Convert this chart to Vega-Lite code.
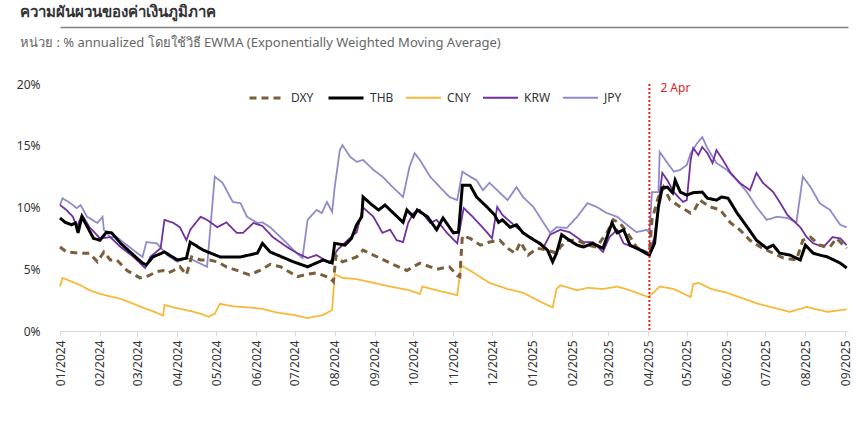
{
  "$schema": "https://vega.github.io/schema/vega-lite/v6.json",
  "width": 788,
  "height": 247,
  "autosize": {"type": "none"},
  "padding": {"left": 60, "top": 84, "right": 12, "bottom": 90},
  "background": "white",
  "config": {"view": {"stroke": null}, "font": "Noto Sans"},
  "title": {
    "text": "ความผันผวนของค่าเงินภูมิภาค",
    "subtitle": "หน่วย : % annualized โดยใช้วิธี EWMA (Exponentially Weighted Moving Average)",
    "anchor": "start",
    "frame": "group",
    "dx": -40,
    "offset": -23,
    "fontSize": 15,
    "fontWeight": "bold",
    "color": "#333333",
    "subtitleFontSize": 13,
    "subtitleColor": "#666666",
    "subtitlePadding": 17
  },
  "resolve": {"axis": {"x": "independent"}},
  "layer": [
    {
      "data": {"values": [
        {"s":"CNY","d":"2024-01-01","v":3.6},{"s":"CNY","d":"2024-01-03","v":4.3},{"s":"CNY","d":"2024-01-10","v":4.0},{"s":"CNY","d":"2024-01-17","v":3.7},{"s":"CNY","d":"2024-01-24","v":3.3},{"s":"CNY","d":"2024-02-01","v":3.0},{"s":"CNY","d":"2024-02-09","v":2.8},{"s":"CNY","d":"2024-02-17","v":2.6},{"s":"CNY","d":"2024-02-27","v":2.2},{"s":"CNY","d":"2024-03-05","v":1.9},{"s":"CNY","d":"2024-03-13","v":1.6},{"s":"CNY","d":"2024-03-21","v":1.25},{"s":"CNY","d":"2024-03-22","v":2.1},{"s":"CNY","d":"2024-04-03","v":1.8},{"s":"CNY","d":"2024-04-12","v":1.6},{"s":"CNY","d":"2024-04-19","v":1.4},{"s":"CNY","d":"2024-04-25","v":1.15},{"s":"CNY","d":"2024-04-30","v":1.4},{"s":"CNY","d":"2024-05-04","v":2.2},{"s":"CNY","d":"2024-05-14","v":2.0},{"s":"CNY","d":"2024-05-27","v":1.9},{"s":"CNY","d":"2024-06-06","v":1.8},{"s":"CNY","d":"2024-06-17","v":1.5},{"s":"CNY","d":"2024-06-30","v":1.3},{"s":"CNY","d":"2024-07-11","v":1.05},{"s":"CNY","d":"2024-07-23","v":1.3},{"s":"CNY","d":"2024-07-30","v":1.7},{"s":"CNY","d":"2024-08-01","v":4.6},{"s":"CNY","d":"2024-08-07","v":4.3},{"s":"CNY","d":"2024-08-18","v":4.2},{"s":"CNY","d":"2024-08-31","v":3.9},{"s":"CNY","d":"2024-09-13","v":3.6},{"s":"CNY","d":"2024-09-28","v":3.3},{"s":"CNY","d":"2024-10-06","v":3.0},{"s":"CNY","d":"2024-10-08","v":3.6},{"s":"CNY","d":"2024-10-19","v":3.3},{"s":"CNY","d":"2024-11-04","v":2.9},{"s":"CNY","d":"2024-11-07","v":5.3},{"s":"CNY","d":"2024-11-14","v":4.9},{"s":"CNY","d":"2024-11-29","v":3.9},{"s":"CNY","d":"2024-12-13","v":3.4},{"s":"CNY","d":"2024-12-25","v":3.1},{"s":"CNY","d":"2025-01-07","v":2.4},{"s":"CNY","d":"2025-01-17","v":1.9},{"s":"CNY","d":"2025-01-20","v":3.4},{"s":"CNY","d":"2025-01-23","v":3.7},{"s":"CNY","d":"2025-02-05","v":3.3},{"s":"CNY","d":"2025-02-13","v":3.5},{"s":"CNY","d":"2025-02-25","v":3.4},{"s":"CNY","d":"2025-03-08","v":3.6},{"s":"CNY","d":"2025-03-18","v":3.3},{"s":"CNY","d":"2025-04-01","v":2.75},{"s":"CNY","d":"2025-04-06","v":3.2},{"s":"CNY","d":"2025-04-10","v":3.6},{"s":"CNY","d":"2025-04-21","v":3.4},{"s":"CNY","d":"2025-05-04","v":2.75},{"s":"CNY","d":"2025-05-06","v":3.8},{"s":"CNY","d":"2025-05-10","v":3.9},{"s":"CNY","d":"2025-05-20","v":3.4},{"s":"CNY","d":"2025-06-01","v":3.1},{"s":"CNY","d":"2025-06-24","v":2.25},{"s":"CNY","d":"2025-07-20","v":1.55},{"s":"CNY","d":"2025-08-02","v":1.95},{"s":"CNY","d":"2025-08-18","v":1.55},{"s":"CNY","d":"2025-09-02","v":1.75},

        {"s":"JPY","d":"2024-01-01","v":10.2},{"s":"JPY","d":"2024-01-03","v":10.75},{"s":"JPY","d":"2024-01-09","v":10.35},{"s":"JPY","d":"2024-01-14","v":9.95},{"s":"JPY","d":"2024-01-17","v":10.2},{"s":"JPY","d":"2024-01-22","v":9.25},{"s":"JPY","d":"2024-01-30","v":8.75},{"s":"JPY","d":"2024-02-03","v":9.25},{"s":"JPY","d":"2024-02-04","v":8.2},{"s":"JPY","d":"2024-02-09","v":7.6},{"s":"JPY","d":"2024-02-14","v":7.6},{"s":"JPY","d":"2024-02-22","v":6.95},{"s":"JPY","d":"2024-03-01","v":6.3},{"s":"JPY","d":"2024-03-05","v":6.0},{"s":"JPY","d":"2024-03-08","v":7.2},{"s":"JPY","d":"2024-03-16","v":7.1},{"s":"JPY","d":"2024-03-24","v":6.15},{"s":"JPY","d":"2024-04-01","v":5.6},{"s":"JPY","d":"2024-04-08","v":5.9},{"s":"JPY","d":"2024-04-13","v":5.75},{"s":"JPY","d":"2024-04-24","v":5.2},{"s":"JPY","d":"2024-04-26","v":7.6},{"s":"JPY","d":"2024-04-30","v":12.5},{"s":"JPY","d":"2024-05-06","v":12.0},{"s":"JPY","d":"2024-05-14","v":10.45},{"s":"JPY","d":"2024-05-20","v":10.35},{"s":"JPY","d":"2024-05-25","v":9.25},{"s":"JPY","d":"2024-06-02","v":8.75},{"s":"JPY","d":"2024-06-06","v":8.8},{"s":"JPY","d":"2024-06-12","v":8.4},{"s":"JPY","d":"2024-06-20","v":7.6},{"s":"JPY","d":"2024-06-25","v":7.1},{"s":"JPY","d":"2024-06-30","v":6.55},{"s":"JPY","d":"2024-07-07","v":5.9},{"s":"JPY","d":"2024-07-11","v":9.0},{"s":"JPY","d":"2024-07-18","v":9.8},{"s":"JPY","d":"2024-07-22","v":9.55},{"s":"JPY","d":"2024-07-26","v":10.45},{"s":"JPY","d":"2024-07-30","v":9.65},{"s":"JPY","d":"2024-08-01","v":11.65},{"s":"JPY","d":"2024-08-05","v":14.65},{"s":"JPY","d":"2024-08-07","v":15.05},{"s":"JPY","d":"2024-08-13","v":14.1},{"s":"JPY","d":"2024-08-18","v":13.7},{"s":"JPY","d":"2024-08-23","v":13.85},{"s":"JPY","d":"2024-08-31","v":13.05},{"s":"JPY","d":"2024-09-07","v":12.5},{"s":"JPY","d":"2024-09-15","v":11.65},{"s":"JPY","d":"2024-09-23","v":10.85},{"s":"JPY","d":"2024-09-28","v":13.3},{"s":"JPY","d":"2024-10-02","v":14.4},{"s":"JPY","d":"2024-10-06","v":13.85},{"s":"JPY","d":"2024-10-14","v":12.5},{"s":"JPY","d":"2024-10-22","v":11.6},{"s":"JPY","d":"2024-10-29","v":10.85},{"s":"JPY","d":"2024-11-04","v":10.6},{"s":"JPY","d":"2024-11-08","v":12.9},{"s":"JPY","d":"2024-11-14","v":12.5},{"s":"JPY","d":"2024-11-19","v":12.2},{"s":"JPY","d":"2024-11-24","v":11.4},{"s":"JPY","d":"2024-11-29","v":12.0},{"s":"JPY","d":"2024-12-07","v":11.2},{"s":"JPY","d":"2024-12-13","v":10.6},{"s":"JPY","d":"2024-12-20","v":11.65},{"s":"JPY","d":"2024-12-25","v":10.85},{"s":"JPY","d":"2025-01-02","v":10.05},{"s":"JPY","d":"2025-01-10","v":8.75},{"s":"JPY","d":"2025-01-15","v":7.95},{"s":"JPY","d":"2025-01-20","v":8.4},{"s":"JPY","d":"2025-01-28","v":8.35},{"s":"JPY","d":"2025-02-05","v":9.25},{"s":"JPY","d":"2025-02-13","v":10.35},{"s":"JPY","d":"2025-02-20","v":10.05},{"s":"JPY","d":"2025-02-28","v":9.55},{"s":"JPY","d":"2025-03-08","v":9.25},{"s":"JPY","d":"2025-03-18","v":8.4},{"s":"JPY","d":"2025-03-23","v":8.0},{"s":"JPY","d":"2025-03-31","v":8.2},{"s":"JPY","d":"2025-04-02","v":7.95},{"s":"JPY","d":"2025-04-04","v":11.25},{"s":"JPY","d":"2025-04-09","v":11.25},{"s":"JPY","d":"2025-04-10","v":14.5},{"s":"JPY","d":"2025-04-16","v":13.6},{"s":"JPY","d":"2025-04-21","v":12.9},{"s":"JPY","d":"2025-04-26","v":13.05},{"s":"JPY","d":"2025-05-01","v":13.45},{"s":"JPY","d":"2025-05-04","v":14.4},{"s":"JPY","d":"2025-05-09","v":15.2},{"s":"JPY","d":"2025-05-13","v":15.7},{"s":"JPY","d":"2025-05-17","v":14.8},{"s":"JPY","d":"2025-05-24","v":13.6},{"s":"JPY","d":"2025-06-01","v":13.05},{"s":"JPY","d":"2025-06-09","v":12.2},{"s":"JPY","d":"2025-06-17","v":11.2},{"s":"JPY","d":"2025-06-24","v":10.05},{"s":"JPY","d":"2025-07-02","v":9.0},{"s":"JPY","d":"2025-07-10","v":9.25},{"s":"JPY","d":"2025-07-18","v":9.15},{"s":"JPY","d":"2025-07-25","v":8.8},{"s":"JPY","d":"2025-07-30","v":12.5},{"s":"JPY","d":"2025-08-05","v":11.65},{"s":"JPY","d":"2025-08-12","v":10.35},{"s":"JPY","d":"2025-08-20","v":9.8},{"s":"JPY","d":"2025-08-28","v":8.6},{"s":"JPY","d":"2025-09-02","v":8.4},

        {"s":"KRW","d":"2024-01-01","v":10.2},{"s":"KRW","d":"2024-01-06","v":9.8},{"s":"KRW","d":"2024-01-11","v":9.25},{"s":"KRW","d":"2024-01-14","v":8.4},{"s":"KRW","d":"2024-01-18","v":9.4},{"s":"KRW","d":"2024-01-24","v":8.4},{"s":"KRW","d":"2024-02-01","v":7.5},{"s":"KRW","d":"2024-02-09","v":7.6},{"s":"KRW","d":"2024-02-17","v":6.8},{"s":"KRW","d":"2024-02-27","v":6.0},{"s":"KRW","d":"2024-03-07","v":5.1},{"s":"KRW","d":"2024-03-11","v":6.0},{"s":"KRW","d":"2024-03-19","v":6.7},{"s":"KRW","d":"2024-03-22","v":9.0},{"s":"KRW","d":"2024-03-29","v":8.75},{"s":"KRW","d":"2024-04-03","v":8.4},{"s":"KRW","d":"2024-04-08","v":7.35},{"s":"KRW","d":"2024-04-11","v":8.2},{"s":"KRW","d":"2024-04-19","v":9.25},{"s":"KRW","d":"2024-04-24","v":9.0},{"s":"KRW","d":"2024-05-02","v":8.4},{"s":"KRW","d":"2024-05-09","v":8.8},{"s":"KRW","d":"2024-05-17","v":7.95},{"s":"KRW","d":"2024-05-22","v":7.95},{"s":"KRW","d":"2024-05-30","v":8.75},{"s":"KRW","d":"2024-06-06","v":8.5},{"s":"KRW","d":"2024-06-14","v":7.6},{"s":"KRW","d":"2024-06-25","v":6.8},{"s":"KRW","d":"2024-07-03","v":6.3},{"s":"KRW","d":"2024-07-11","v":5.9},{"s":"KRW","d":"2024-07-18","v":6.15},{"s":"KRW","d":"2024-07-28","v":5.5},{"s":"KRW","d":"2024-08-03","v":6.55},{"s":"KRW","d":"2024-08-11","v":7.35},{"s":"KRW","d":"2024-08-18","v":8.0},{"s":"KRW","d":"2024-08-23","v":10.0},{"s":"KRW","d":"2024-08-31","v":9.25},{"s":"KRW","d":"2024-09-07","v":7.95},{"s":"KRW","d":"2024-09-13","v":8.2},{"s":"KRW","d":"2024-09-18","v":7.35},{"s":"KRW","d":"2024-09-23","v":7.2},{"s":"KRW","d":"2024-09-27","v":8.75},{"s":"KRW","d":"2024-10-01","v":9.55},{"s":"KRW","d":"2024-10-06","v":9.8},{"s":"KRW","d":"2024-10-14","v":8.75},{"s":"KRW","d":"2024-10-19","v":9.0},{"s":"KRW","d":"2024-10-27","v":7.95},{"s":"KRW","d":"2024-11-04","v":7.1},{"s":"KRW","d":"2024-11-09","v":9.95},{"s":"KRW","d":"2024-11-16","v":9.25},{"s":"KRW","d":"2024-11-27","v":8.0},{"s":"KRW","d":"2024-12-01","v":7.5},{"s":"KRW","d":"2024-12-05","v":10.05},{"s":"KRW","d":"2024-12-09","v":9.4},{"s":"KRW","d":"2024-12-20","v":8.4},{"s":"KRW","d":"2024-12-30","v":7.6},{"s":"KRW","d":"2025-01-10","v":6.8},{"s":"KRW","d":"2025-01-15","v":7.8},{"s":"KRW","d":"2025-01-23","v":8.2},{"s":"KRW","d":"2025-01-30","v":8.0},{"s":"KRW","d":"2025-02-10","v":7.2},{"s":"KRW","d":"2025-02-17","v":7.2},{"s":"KRW","d":"2025-02-25","v":6.4},{"s":"KRW","d":"2025-03-02","v":7.6},{"s":"KRW","d":"2025-03-08","v":8.2},{"s":"KRW","d":"2025-03-13","v":7.1},{"s":"KRW","d":"2025-03-20","v":6.8},{"s":"KRW","d":"2025-03-28","v":6.55},{"s":"KRW","d":"2025-04-02","v":6.3},{"s":"KRW","d":"2025-04-06","v":7.6},{"s":"KRW","d":"2025-04-12","v":12.8},{"s":"KRW","d":"2025-04-16","v":12.2},{"s":"KRW","d":"2025-04-21","v":11.25},{"s":"KRW","d":"2025-04-28","v":10.45},{"s":"KRW","d":"2025-05-01","v":10.6},{"s":"KRW","d":"2025-05-04","v":13.85},{"s":"KRW","d":"2025-05-06","v":14.8},{"s":"KRW","d":"2025-05-10","v":14.25},{"s":"KRW","d":"2025-05-13","v":14.9},{"s":"KRW","d":"2025-05-17","v":14.4},{"s":"KRW","d":"2025-05-21","v":13.6},{"s":"KRW","d":"2025-05-24","v":14.65},{"s":"KRW","d":"2025-05-29","v":13.85},{"s":"KRW","d":"2025-06-04","v":12.8},{"s":"KRW","d":"2025-06-11","v":12.0},{"s":"KRW","d":"2025-06-19","v":11.4},{"s":"KRW","d":"2025-06-24","v":12.8},{"s":"KRW","d":"2025-06-29","v":12.0},{"s":"KRW","d":"2025-07-07","v":11.25},{"s":"KRW","d":"2025-07-12","v":10.45},{"s":"KRW","d":"2025-07-18","v":9.4},{"s":"KRW","d":"2025-07-22","v":9.0},{"s":"KRW","d":"2025-07-28","v":8.4},{"s":"KRW","d":"2025-08-02","v":7.6},{"s":"KRW","d":"2025-08-07","v":7.1},{"s":"KRW","d":"2025-08-15","v":6.8},{"s":"KRW","d":"2025-08-22","v":7.6},{"s":"KRW","d":"2025-08-28","v":7.5},{"s":"KRW","d":"2025-09-02","v":6.95},

        {"s":"DXY","d":"2024-01-01","v":6.8},{"s":"DXY","d":"2024-01-06","v":6.4},{"s":"DXY","d":"2024-01-17","v":6.3},{"s":"DXY","d":"2024-01-24","v":6.3},{"s":"DXY","d":"2024-01-30","v":5.6},{"s":"DXY","d":"2024-02-04","v":6.4},{"s":"DXY","d":"2024-02-09","v":5.75},{"s":"DXY","d":"2024-02-14","v":5.75},{"s":"DXY","d":"2024-02-22","v":4.9},{"s":"DXY","d":"2024-03-03","v":4.3},{"s":"DXY","d":"2024-03-08","v":4.4},{"s":"DXY","d":"2024-03-16","v":4.8},{"s":"DXY","d":"2024-03-21","v":4.9},{"s":"DXY","d":"2024-03-25","v":4.7},{"s":"DXY","d":"2024-03-29","v":4.9},{"s":"DXY","d":"2024-04-03","v":5.2},{"s":"DXY","d":"2024-04-08","v":4.55},{"s":"DXY","d":"2024-04-12","v":6.0},{"s":"DXY","d":"2024-04-19","v":5.75},{"s":"DXY","d":"2024-04-26","v":5.75},{"s":"DXY","d":"2024-05-02","v":5.6},{"s":"DXY","d":"2024-05-09","v":5.2},{"s":"DXY","d":"2024-05-20","v":4.8},{"s":"DXY","d":"2024-05-27","v":4.55},{"s":"DXY","d":"2024-06-04","v":4.9},{"s":"DXY","d":"2024-06-12","v":5.4},{"s":"DXY","d":"2024-06-20","v":5.2},{"s":"DXY","d":"2024-07-03","v":4.4},{"s":"DXY","d":"2024-07-11","v":4.6},{"s":"DXY","d":"2024-07-18","v":4.7},{"s":"DXY","d":"2024-07-28","v":4.3},{"s":"DXY","d":"2024-07-31","v":4.0},{"s":"DXY","d":"2024-08-02","v":6.1},{"s":"DXY","d":"2024-08-07","v":5.6},{"s":"DXY","d":"2024-08-18","v":6.0},{"s":"DXY","d":"2024-08-23","v":6.55},{"s":"DXY","d":"2024-08-31","v":6.15},{"s":"DXY","d":"2024-09-13","v":5.5},{"s":"DXY","d":"2024-09-26","v":4.9},{"s":"DXY","d":"2024-10-06","v":5.5},{"s":"DXY","d":"2024-10-19","v":5.0},{"s":"DXY","d":"2024-10-29","v":5.2},{"s":"DXY","d":"2024-11-04","v":4.5},{"s":"DXY","d":"2024-11-06","v":4.4},{"s":"DXY","d":"2024-11-08","v":7.7},{"s":"DXY","d":"2024-11-14","v":7.5},{"s":"DXY","d":"2024-11-22","v":6.95},{"s":"DXY","d":"2024-11-29","v":7.2},{"s":"DXY","d":"2024-12-07","v":7.35},{"s":"DXY","d":"2024-12-13","v":6.7},{"s":"DXY","d":"2024-12-19","v":6.3},{"s":"DXY","d":"2024-12-23","v":7.2},{"s":"DXY","d":"2024-12-29","v":6.15},{"s":"DXY","d":"2025-01-05","v":6.7},{"s":"DXY","d":"2025-01-13","v":6.55},{"s":"DXY","d":"2025-01-20","v":6.3},{"s":"DXY","d":"2025-01-23","v":6.8},{"s":"DXY","d":"2025-01-28","v":7.35},{"s":"DXY","d":"2025-02-05","v":7.35},{"s":"DXY","d":"2025-02-13","v":6.95},{"s":"DXY","d":"2025-02-20","v":6.8},{"s":"DXY","d":"2025-02-28","v":7.95},{"s":"DXY","d":"2025-03-05","v":9.0},{"s":"DXY","d":"2025-03-10","v":8.75},{"s":"DXY","d":"2025-03-16","v":7.95},{"s":"DXY","d":"2025-03-23","v":6.8},{"s":"DXY","d":"2025-03-31","v":6.3},{"s":"DXY","d":"2025-04-02","v":6.2},{"s":"DXY","d":"2025-04-04","v":9.0},{"s":"DXY","d":"2025-04-09","v":10.85},{"s":"DXY","d":"2025-04-13","v":11.65},{"s":"DXY","d":"2025-04-18","v":10.6},{"s":"DXY","d":"2025-04-26","v":10.05},{"s":"DXY","d":"2025-05-04","v":9.55},{"s":"DXY","d":"2025-05-07","v":9.8},{"s":"DXY","d":"2025-05-11","v":10.6},{"s":"DXY","d":"2025-05-19","v":10.05},{"s":"DXY","d":"2025-05-27","v":9.8},{"s":"DXY","d":"2025-06-04","v":8.75},{"s":"DXY","d":"2025-06-11","v":8.2},{"s":"DXY","d":"2025-06-19","v":7.35},{"s":"DXY","d":"2025-06-27","v":6.8},{"s":"DXY","d":"2025-07-07","v":6.3},{"s":"DXY","d":"2025-07-15","v":5.9},{"s":"DXY","d":"2025-07-25","v":5.75},{"s":"DXY","d":"2025-07-30","v":7.35},{"s":"DXY","d":"2025-08-05","v":7.6},{"s":"DXY","d":"2025-08-12","v":6.95},{"s":"DXY","d":"2025-08-20","v":6.8},{"s":"DXY","d":"2025-08-25","v":7.5},{"s":"DXY","d":"2025-09-02","v":6.7},

        {"s":"THB","d":"2024-01-01","v":9.15},{"s":"THB","d":"2024-01-05","v":8.8},{"s":"THB","d":"2024-01-10","v":8.6},{"s":"THB","d":"2024-01-13","v":8.75},{"s":"THB","d":"2024-01-15","v":7.95},{"s":"THB","d":"2024-01-18","v":9.25},{"s":"THB","d":"2024-01-27","v":7.5},{"s":"THB","d":"2024-02-01","v":7.35},{"s":"THB","d":"2024-02-06","v":8.0},{"s":"THB","d":"2024-02-10","v":7.95},{"s":"THB","d":"2024-02-17","v":7.1},{"s":"THB","d":"2024-02-27","v":6.15},{"s":"THB","d":"2024-03-05","v":5.5},{"s":"THB","d":"2024-03-08","v":5.35},{"s":"THB","d":"2024-03-13","v":6.0},{"s":"THB","d":"2024-03-22","v":6.4},{"s":"THB","d":"2024-04-01","v":5.75},{"s":"THB","d":"2024-04-08","v":5.9},{"s":"THB","d":"2024-04-11","v":7.2},{"s":"THB","d":"2024-04-21","v":6.55},{"s":"THB","d":"2024-05-04","v":6.0},{"s":"THB","d":"2024-05-20","v":6.0},{"s":"THB","d":"2024-06-02","v":6.3},{"s":"THB","d":"2024-06-06","v":7.1},{"s":"THB","d":"2024-06-12","v":6.4},{"s":"THB","d":"2024-06-30","v":5.6},{"s":"THB","d":"2024-07-11","v":5.2},{"s":"THB","d":"2024-07-23","v":5.75},{"s":"THB","d":"2024-07-30","v":5.5},{"s":"THB","d":"2024-08-01","v":7.1},{"s":"THB","d":"2024-08-09","v":6.95},{"s":"THB","d":"2024-08-14","v":7.5},{"s":"THB","d":"2024-08-18","v":8.6},{"s":"THB","d":"2024-08-22","v":9.25},{"s":"THB","d":"2024-08-23","v":10.85},{"s":"THB","d":"2024-08-30","v":10.2},{"s":"THB","d":"2024-09-04","v":9.8},{"s":"THB","d":"2024-09-09","v":10.2},{"s":"THB","d":"2024-09-13","v":9.8},{"s":"THB","d":"2024-09-23","v":8.8},{"s":"THB","d":"2024-09-26","v":9.8},{"s":"THB","d":"2024-10-01","v":9.25},{"s":"THB","d":"2024-10-04","v":9.8},{"s":"THB","d":"2024-10-12","v":9.25},{"s":"THB","d":"2024-10-19","v":8.2},{"s":"THB","d":"2024-10-24","v":9.15},{"s":"THB","d":"2024-11-01","v":7.95},{"s":"THB","d":"2024-11-05","v":8.0},{"s":"THB","d":"2024-11-08","v":11.8},{"s":"THB","d":"2024-11-14","v":11.8},{"s":"THB","d":"2024-11-19","v":10.85},{"s":"THB","d":"2024-11-27","v":10.05},{"s":"THB","d":"2024-12-03","v":9.4},{"s":"THB","d":"2024-12-06","v":8.8},{"s":"THB","d":"2024-12-09","v":9.0},{"s":"THB","d":"2024-12-15","v":8.4},{"s":"THB","d":"2024-12-20","v":8.6},{"s":"THB","d":"2024-12-25","v":7.95},{"s":"THB","d":"2024-12-30","v":7.6},{"s":"THB","d":"2025-01-07","v":7.1},{"s":"THB","d":"2025-01-13","v":6.55},{"s":"THB","d":"2025-01-17","v":5.6},{"s":"THB","d":"2025-01-20","v":6.3},{"s":"THB","d":"2025-01-24","v":7.8},{"s":"THB","d":"2025-01-30","v":7.35},{"s":"THB","d":"2025-02-05","v":6.95},{"s":"THB","d":"2025-02-10","v":6.8},{"s":"THB","d":"2025-02-17","v":7.1},{"s":"THB","d":"2025-02-25","v":6.7},{"s":"THB","d":"2025-03-04","v":8.75},{"s":"THB","d":"2025-03-08","v":7.95},{"s":"THB","d":"2025-03-13","v":8.2},{"s":"THB","d":"2025-03-18","v":6.95},{"s":"THB","d":"2025-03-26","v":6.55},{"s":"THB","d":"2025-04-01","v":6.2},{"s":"THB","d":"2025-04-02","v":6.15},{"s":"THB","d":"2025-04-06","v":7.1},{"s":"THB","d":"2025-04-09","v":10.05},{"s":"THB","d":"2025-04-12","v":11.6},{"s":"THB","d":"2025-04-16","v":11.65},{"s":"THB","d":"2025-04-20","v":11.2},{"s":"THB","d":"2025-04-22","v":12.2},{"s":"THB","d":"2025-04-26","v":11.25},{"s":"THB","d":"2025-05-01","v":11.0},{"s":"THB","d":"2025-05-06","v":11.2},{"s":"THB","d":"2025-05-13","v":11.25},{"s":"THB","d":"2025-05-17","v":10.75},{"s":"THB","d":"2025-05-24","v":10.6},{"s":"THB","d":"2025-05-28","v":10.85},{"s":"THB","d":"2025-06-02","v":10.75},{"s":"THB","d":"2025-06-09","v":9.55},{"s":"THB","d":"2025-06-17","v":8.4},{"s":"THB","d":"2025-06-24","v":7.35},{"s":"THB","d":"2025-07-02","v":6.7},{"s":"THB","d":"2025-07-07","v":6.95},{"s":"THB","d":"2025-07-12","v":6.3},{"s":"THB","d":"2025-07-20","v":6.15},{"s":"THB","d":"2025-07-28","v":5.75},{"s":"THB","d":"2025-08-01","v":6.95},{"s":"THB","d":"2025-08-07","v":6.3},{"s":"THB","d":"2025-08-12","v":6.15},{"s":"THB","d":"2025-08-18","v":6.0},{"s":"THB","d":"2025-08-23","v":5.75},{"s":"THB","d":"2025-08-28","v":5.5},{"s":"THB","d":"2025-09-02","v":5.1}
      ]},
      "mark": {"type": "line", "strokeCap": "butt"},
      "encoding": {
        "x": {
          "field": "d", "type": "temporal",
          "scale": {"domain": ["2024-01-01", "2025-09-03"]},
          "axis": {
            "title": null, "format": "%m/%Y", "labelAngle": -90,
            "tickCount": {"interval": "month", "step": 1},
            "grid": false, "domainColor": "#d9d9d9", "tickColor": "#d9d9d9",
            "tickSize": 5, "labelFontSize": 12, "labelColor": "#333333",
            "labelPadding": 4, "labelOverlap": false, "labelFlush": false
          }
        },
        "y": {
          "field": "v", "type": "quantitative",
          "scale": {"domain": [0, 20]},
          "axis": {
            "title": null, "values": [0, 5, 10, 15, 20],
            "labelExpr": "datum.value + '%'",
            "grid": false, "domain": false, "ticks": false,
            "labelPadding": 20, "labelFontSize": 12, "labelColor": "#333333"
          }
        },
        "color": {
          "field": "s", "type": "nominal",
          "scale": {"domain": ["DXY", "THB", "CNY", "KRW", "JPY"], "range": ["#7b5e3c", "#000000", "#f6b93b", "#7030a0", "#8e8bcb"]},
          "legend": {
            "orient": "none", "legendX": 188, "legendY": -5, "direction": "horizontal",
            "title": null, "symbolType": "stroke", "symbolSize": 1225,
            "labelFontSize": 12, "labelColor": "#333333", "labelOffset": 5,
            "columnPadding": 8
          }
        },
        "strokeDash": {
          "field": "s", "type": "nominal",
          "scale": {"domain": ["DXY", "THB", "CNY", "KRW", "JPY"], "range": [[7, 5], [1, 0], [1, 0], [1, 0], [1, 0]]}
        },
        "strokeWidth": {
          "field": "s", "type": "nominal",
          "scale": {"type": "ordinal", "domain": ["DXY", "THB", "CNY", "KRW", "JPY"], "range": [3, 3, 1.8, 1.8, 1.8]}
        }
      }
    },
    {
      "data": {"values": [{"d": "2025-04-02", "t": "2 Apr"}]},
      "mark": {"type": "rule", "color": "#e3221b", "strokeWidth": 2, "strokeDash": [2, 2]},
      "encoding": {
        "x": {
          "field": "d", "type": "temporal",
          "axis": {
            "orient": "top", "offset": 57, "title": null, "labels": false, "ticks": false,
            "grid": false, "domain": true, "domainColor": "#808080", "domainWidth": 1.5
          }
        }
      }
    },
    {
      "data": {"values": [{"d": "2025-04-02", "t": "2 Apr"}]},
      "mark": {"type": "text", "color": "#e3221b", "fontSize": 12, "align": "left", "baseline": "middle", "dx": 11},
      "encoding": {
        "x": {"field": "d", "type": "temporal", "axis": null},
        "y": {"datum": 19.7},
        "text": {"field": "t"}
      }
    }
  ]
}
